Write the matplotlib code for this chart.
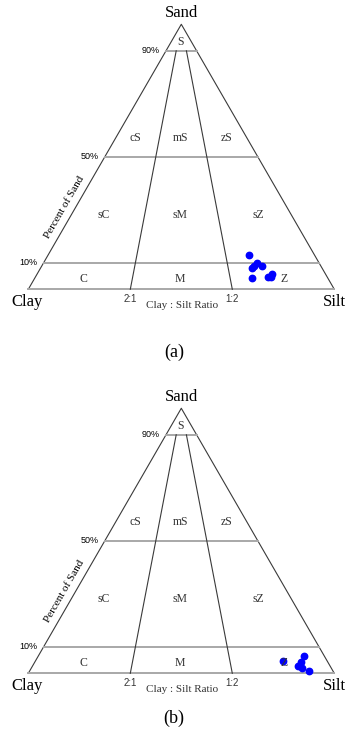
import matplotlib
matplotlib.use('Agg')
import matplotlib.pyplot as plt
import numpy as np

#sand-silt-clay ternary (folk style), two sample sets
#values are percentages
sand_a=[13.0,10.1,8.2,8.9,8.9,4.4,4.8,5.8,4.8]
silt_a=[65.6,69.6,69.1,69.4,71.8,71.0,76.0,76.8,76.8]
clay_a=[21.4,20.3,22.7,21.7,19.3,24.6,19.2,17.4,18.4]

sand_b=[4.5,6.6,4.3,2.8,2.0,0.7]
silt_b=[81.1,86.8,87.0,86.9,88.6,91.3]
clay_b=[14.4,6.6,8.7,10.3,9.4,8.0]

sand_levels=[10,50,90]
level_labels=['10%','50%','90%']
ratio_pos=[1/3,2/3]     #silt share of mud at 2:1 and 1:2
ratio_labels=['2:1','1:2']

classes=['S','cS','mS','zS','sC','sM','sZ','C','M','Z']
class_x=[0.497,0.351,0.497,0.648,0.245,0.496,0.752,0.180,0.496,0.837]
class_y=[0.809,0.496,0.496,0.496,0.243,0.243,0.243,0.033,0.033,0.033]

H=np.sqrt(3)/2
serif=['Liberation Serif','DejaVu Serif']
sans=['Liberation Sans','DejaVu Sans']


def tern(sand,silt,clay):
    sand=np.asarray(sand,float)
    silt=np.asarray(silt,float)
    tot=sand+silt+np.asarray(clay,float)
    return silt/tot+sand/tot/2,sand/tot*H


def draw(ax,sand,silt,clay,caption,cap_y):

    dark='#3a3a3a'
    grey='#a8a8a8'

    #outline
    ax.plot([0,0.5,1],[0,H,0],color=dark,lw=0.8)
    ax.plot([0,1],[0,0],color=grey,lw=1.4)

    #sand percent lines
    for s,lab in zip(sand_levels,level_labels):
        f=s/100
        ax.plot([f/2,1-f/2],[f*H,f*H],color=grey,lw=1.4)
        ax.text(f/2-0.02,f*H,lab,ha='right',va='center',fontsize=6.5,family=sans)

    #clay:silt ratio lines up to 90% sand
    for r,lab in zip(ratio_pos,ratio_labels):
        f=0.9
        ax.plot([r,(1-f)*r+f*0.5],[0,f*H],color=dark,lw=0.8)
        ax.text(r,-0.033,lab,ha='center',va='center',fontsize=7,family=sans,color='#333333')

    for c,x,y in zip(classes,class_x,class_y):
        ax.text(x,y,c,ha='center',va='center',fontsize=8.5,family=serif,color='#333333')

    ax.text(0.5,0.903,'Sand',ha='center',va='center',fontsize=12,family=serif)
    ax.text(-0.005,-0.04,'Clay',ha='center',va='center',fontsize=12,family=serif)
    ax.text(1.0,-0.04,'Silt',ha='center',va='center',fontsize=12,family=serif)
    ax.text(0.502,-0.052,'Clay : Silt Ratio',ha='center',va='center',fontsize=8,family=serif,color='#333333')
    ax.text(0.1167,0.269,'Percent of Sand',ha='center',va='center',rotation=60,fontsize=8,family=serif)

    x,y=tern(sand,silt,clay)
    ax.plot(x,y,lw=0,marker='o',ms=4.6,color='#0000ff')

    ax.text(0.476,cap_y,caption,ha='center',va='center',fontsize=13,family=serif)
    ax.set_axis_off()


fig=plt.figure(figsize=(3.47,7.48),dpi=100)

ax=fig.add_axes([0,0.5,1,0.5])
ax.set_xlim(-0.0925,1.0415)
ax.set_ylim(-0.2768,0.9454)
draw(ax,sand_a,silt_a,clay_a,'(a)',-0.205)

bx=fig.add_axes([0,0,1,0.5])
bx.set_xlim(-0.0925,1.0415)
bx.set_ylim(-0.244,0.978)
draw(bx,sand_b,silt_b,clay_b,'(b)',-0.146)

fig.savefig('out.png',dpi=100)
